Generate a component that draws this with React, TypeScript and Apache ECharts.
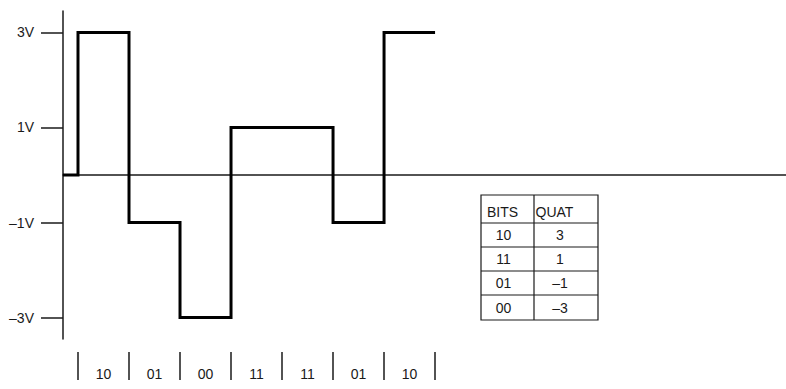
import React, { useEffect, useRef } from 'react';
import * as echarts from 'echarts';

// Data
const bitPairs: string[] = ['10', '01', '00', '11', '11', '01', '10'];
const tableBits: string[] = ['10', '11', '01', '00'];
const tableQuat: number[] = [3, 1, -1, -3];
const yTickValues: number[] = [-3, -1, 1, 3];
const tableHeader: string[] = ['BITS', 'QUAT'];
const leadIn = -0.294; // signal starts before first symbol (symbol periods)
const xMax = 13.88;
const yLimit = 3.45;

const FONT = '"Liberation Sans Narrow", "Liberation Sans", Arial, sans-serif';
const INK = '#1a1a1a';

const signed = (v: number) => (v < 0 ? '\u2013' + Math.abs(v) : String(v));

export default function App() {
  const ref = useRef<HTMLDivElement>(null);

  useEffect(() => {
    if (!ref.current) return;
    const chart = echarts.init(ref.current, undefined, { renderer: 'svg' });

    const levels = bitPairs.map((b) => tableQuat[tableBits.indexOf(b)]);
    const points: number[][] = [
      [leadIn, 0],
      [0, 0],
    ];
    levels.forEach((lv, i) => {
      points.push([i, lv]);
      points.push([i + 1, lv]);
    });

    const bitTicks = bitPairs.map((_, i) => i).concat([bitPairs.length]);
    const bitLabelPos = bitPairs.map((_, i) => i + 0.5);

    // Table layout
    const tL = 481, tR = 598, tT = 195, tMid = 534;
    const rowLines = [223, 247, 271, 295, 320];
    const tB = rowLines[rowLines.length - 1];
    const tableEls: any[] = [];
    tableEls.push({
      type: 'rect',
      shape: { x: tL, y: tT, width: tR - tL, height: tB - tT },
      style: { fill: 'none', stroke: INK, lineWidth: 1.2 },
    });
    tableEls.push({
      type: 'line',
      shape: { x1: tMid, y1: tT, x2: tMid, y2: tB },
      style: { stroke: INK, lineWidth: 1.2 },
    });
    rowLines.slice(0, -1).forEach((y) =>
      tableEls.push({
        type: 'line',
        shape: { x1: tL, y1: y, x2: tR, y2: y },
        style: { stroke: INK, lineWidth: 1.2 },
      })
    );
    tableEls.push({
      type: 'text',
      x: 487,
      y: 212,
      style: { text: tableHeader[0], fill: INK, font: `14px ${FONT}`, align: 'left', verticalAlign: 'middle' },
    });
    tableEls.push({
      type: 'text',
      x: 535.5,
      y: 212,
      style: { text: tableHeader[1], fill: INK, font: `14px ${FONT}`, align: 'left', verticalAlign: 'middle' },
    });
    tableBits.forEach((b, i) => {
      const cy = (rowLines[i] + rowLines[i + 1]) / 2;
      tableEls.push({
        type: 'text',
        x: 503.5,
        y: cy,
        style: { text: b, fill: INK, font: `14px ${FONT}`, align: 'center', verticalAlign: 'middle' },
      });
      tableEls.push({
        type: 'text',
        x: 560,
        y: cy,
        style: { text: signed(tableQuat[i]), fill: INK, font: `14px ${FONT}`, align: 'center', verticalAlign: 'middle' },
      });
    });

    chart.setOption({
      animation: false,
      backgroundColor: '#ffffff',
      grid: { left: 63, right: 0, top: 11, bottom: 50, containLabel: false },
      xAxis: [
        {
          type: 'value',
          min: leadIn,
          max: xMax,
          axisLine: { show: true, onZero: true, lineStyle: { color: INK, width: 1.5 } },
          axisTick: { show: false },
          axisLabel: { show: false },
          splitLine: { show: false },
        },
        {
          type: 'value',
          min: leadIn,
          max: xMax,
          position: 'bottom',
          offset: 13,
          axisLine: { show: false, onZero: false },
          axisTick: {
            show: true,
            customValues: bitTicks,
            length: 28,
            lineStyle: { color: INK, width: 1.5 },
          },
          axisLabel: {
            show: true,
            customValues: bitLabelPos,
            formatter: (v: number) => bitPairs[Math.floor(v)] ?? '',
            margin: 15,
            color: INK,
            fontSize: 14,
            fontFamily: FONT,
          },
          splitLine: { show: false },
        },
      ],
      yAxis: {
        type: 'value',
        min: -yLimit,
        max: yLimit,
        axisLine: { show: true, onZero: false, lineStyle: { color: INK, width: 1.5 } },
        axisTick: {
          show: true,
          customValues: yTickValues,
          length: 22,
          lineStyle: { color: INK, width: 1.5 },
        },
        axisLabel: {
          show: true,
          customValues: yTickValues,
          formatter: (v: number) => signed(v) + 'V',
          margin: 29,
          color: INK,
          fontSize: 14,
          fontFamily: FONT,
        },
        splitLine: { show: false },
      },
      series: [
        {
          type: 'line',
          xAxisIndex: 0,
          data: points,
          showSymbol: false,
          symbol: 'none',
          lineStyle: { color: '#000', width: 3, cap: 'butt', join: 'miter' },
          z: 5,
        },
      ],
      graphic: [{ type: 'group', elements: tableEls }],
    });

    return () => chart.dispose();
  }, []);

  return (
    <div
      ref={ref}
      style={{ position: 'absolute', left: 0, top: 0, width: 786, height: 389, background: '#fff' }}
    />
  );
}
